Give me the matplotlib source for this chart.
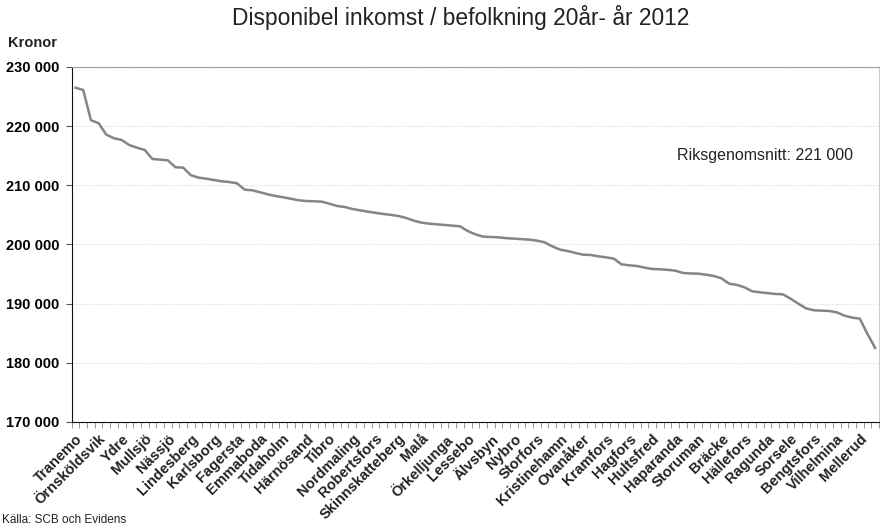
import numpy as np
import matplotlib.pyplot as plt
from matplotlib.ticker import FuncFormatter, MultipleLocator

plt.rcParams['font.family'] = ['Liberation Sans', 'DejaVu Sans']

# disponibel inkomst per invånare 20 år och äldre, sorterad fallande
inkomst = [226500, 226100, 221000, 220500, 218560, 217950, 217660, 216800, 216360, 215970,
           214450, 214340, 214230, 213050, 212990, 211700, 211300, 211120, 210900, 210680,
           210560, 210340, 209260, 209160, 208820, 208480, 208200, 207980, 207740, 207470,
           207350, 207300, 207240, 206900, 206510, 206340, 206000, 205780, 205550, 205360,
           205160, 205010, 204820, 204480, 204030, 203690, 203520, 203410, 203300, 203180,
           203070, 202280, 201720, 201330, 201270, 201210, 201070, 200990, 200900, 200820,
           200650, 200370, 199690, 199130, 198900, 198570, 198280, 198230, 198000, 197830,
           197610, 196650, 196480, 196370, 196090, 195860, 195810, 195720, 195580, 195190,
           195100, 195070, 194900, 194680, 194290, 193380, 193180, 192760, 192090, 191920,
           191780, 191640, 191580, 190840, 190000, 189210, 188880, 188820, 188760, 188540,
           187970, 187640, 187470, 184880, 182510]

# kommuner som visas på x-axeln (var tredje)
kommuner = ['Tranemo', 'Örnsköldsvik', 'Ydre', 'Mullsjö', 'Nässjö', 'Lindesberg',
            'Karlsborg', 'Fagersta', 'Emmaboda', 'Tidaholm', 'Härnösand', 'Tibro',
            'Nordmaling', 'Robertsfors', 'Skinnskatteberg', 'Malå', 'Örkelljunga',
            'Lessebo', 'Älvsbyn', 'Nybro', 'Storfors', 'Kristinehamn', 'Ovanåker',
            'Kramfors', 'Hagfors', 'Hultsfred', 'Haparanda', 'Storuman', 'Bräcke',
            'Hällefors', 'Ragunda', 'Sorsele', 'Bengtsfors', 'Vilhelmina', 'Mellerud']
steg = 3
riksgenomsnitt = 221000

fig = plt.figure(figsize=(8.82, 5.30), dpi=100)
ax = fig.add_axes([0.0813, 0.2038, 0.9153, 0.6698])

x = np.arange(len(inkomst))
ax.plot(x, inkomst, color='#858585', lw=1.8, solid_joinstyle='round')

ax.set_xlim(-0.5, len(inkomst) - 0.5)
ax.set_ylim(170000, 230000)

ax.yaxis.set_major_locator(MultipleLocator(10000))
ax.yaxis.set_major_formatter(FuncFormatter(lambda v, p: f'{int(v):,}'.replace(',', ' ')))
ax.tick_params(axis='y', labelsize=10.5, length=4, color='#555555', pad=5)
for lab in ax.get_yticklabels():
    lab.set_fontweight('bold')
ax.grid(axis='y', color='#d6d6d6', ls=':', lw=0.8)

ax.set_xticks(np.arange(0, len(inkomst), steg))
ax.set_xticklabels(kommuner, rotation=45, ha='right', va='top',
                   rotation_mode='anchor', fontsize=10.5, fontweight='bold', color='#222222')
ax.set_xticks(np.arange(-0.5, len(inkomst), 1), minor=True)
ax.tick_params(axis='x', which='major', length=0, pad=7)
ax.tick_params(axis='x', which='minor', length=4, color='#888888')

ax.spines['left'].set_color('#111111')
ax.spines['bottom'].set_color('#111111')
ax.spines['top'].set_color('#a0a0a0')
ax.spines['right'].set_color('#cccccc')

ax.text(0.968, 0.752, f'Riksgenomsnitt: {riksgenomsnitt:,}'.replace(',', ' '),
        transform=ax.transAxes, ha='right', va='center', fontsize=11.5, color='#222222')

fig.text(461 / 882, 1 - 18 / 530, 'Disponibel inkomst / befolkning 20år- år 2012',
         ha='center', va='center', fontsize=16.4, color='#222222')
fig.text(8 / 882, 1 - 43 / 530, 'Kronor', ha='left', va='center',
         fontsize=10.5, fontweight='bold', color='#222222')
fig.text(2 / 882, 1 - 520 / 530, 'Källa: SCB och Evidens', ha='left', va='center',
         fontsize=8.5, color='#222222')

fig.savefig('out.png', dpi=100)
